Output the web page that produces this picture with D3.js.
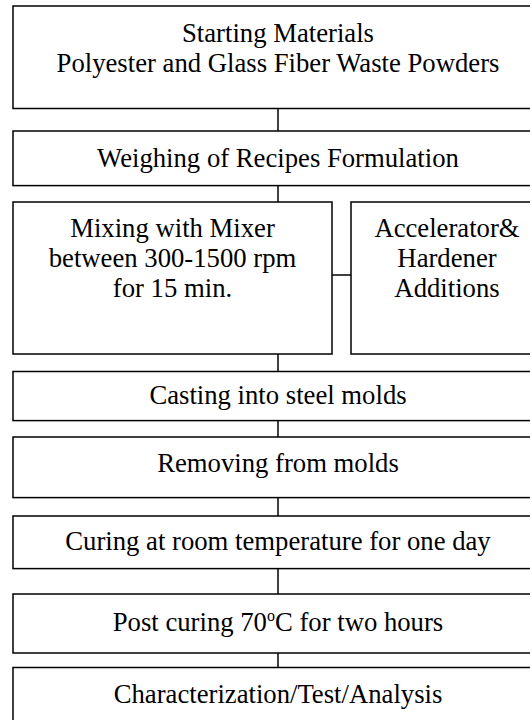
<!DOCTYPE html>
<html>
<head>
<meta charset="utf-8">
<script src="https://cdn.jsdelivr.net/npm/d3@7"></script>
<style>
  html, body { margin: 0; padding: 0; background: #fff; }
  svg { display: block; }
  .box { fill: #fff; stroke: #000; stroke-width: 1.5; }
  .link { stroke: #000; stroke-width: 1.5; }
  .label { font-family: "Liberation Serif", "Times New Roman", serif; font-size: 26.7px; fill: #000; }
</style>
</head>
<body>
<svg id="flow" width="530" height="720"></svg>
<script>
// Process steps, top to bottom (each entry = lines of text)
const steps = [
  ["Starting Materials", "Polyester and Glass Fiber Waste Powders"],
  ["Weighing of Recipes Formulation"],
  ["Mixing with Mixer", "between 300-1500 rpm", "for 15 min."],
  ["Casting into steel molds"],
  ["Removing from molds"],
  ["Curing at room temperature for one day"],
  ["Post curing 70|o|C for two hours"],
  ["Characterization/Test/Analysis"]
];
// side box attached to step index 2
const sideStep = ["Accelerator&", "Hardener", "Additions"];
const sideOf = 2;

// layout: box top and bottom for each row (px)
const rowTop    = [6, 131, 202, 371.5, 437, 516, 594, 667.5];
const rowBottom = [108.5, 185.6, 354, 420.6, 497.6, 568.6, 653, 760];
const textTop   = [42, 166.5, 237, 404, 472, 550, 631, 703];

const svg = d3.select("#flow");
const x = d3.scaleLinear().domain([0, 1]).range([13, 543]);
const splitMain = 332, splitSide = 351;
const lineH = 30;

// connectors
const g = svg.append("g");
const cx = (x(0) + x(1)) / 2;
g.selectAll("line.v")
  .data(d3.range(steps.length - 1))
  .enter().append("line")
  .attr("class", "link")
  .attr("x1", cx).attr("x2", cx)
  .attr("y1", i => rowBottom[i]).attr("y2", i => rowTop[i + 1]);

const midY = (rowTop[sideOf] + rowBottom[sideOf]) / 2 - 3;
g.append("line").attr("class", "link")
  .attr("x1", splitMain).attr("x2", splitSide)
  .attr("y1", midY).attr("y2", midY);

// boxes
const nodes = steps.map((lines, i) => ({
  lines, i,
  x0: x(0), x1: i === sideOf ? splitMain : x(1),
  y0: rowTop[i], y1: rowBottom[i], ty: textTop[i]
}));
nodes.push({ lines: sideStep, i: sideOf, x0: splitSide, x1: x(1),
  y0: rowTop[sideOf], y1: rowBottom[sideOf], ty: textTop[sideOf] });

const node = g.selectAll("g.node").data(nodes).enter().append("g").attr("class", "node");
node.append("rect").attr("class", "box")
  .attr("x", d => d.x0).attr("y", d => d.y0)
  .attr("width", d => d.x1 - d.x0).attr("height", d => d.y1 - d.y0);

node.each(function (d) {
  const t = d3.select(this).append("text").attr("class", "label").attr("text-anchor", "middle");
  d.lines.forEach((ln, k) => {
    const parts = ln.split("|");
    const row = t.append("tspan").attr("x", (d.x0 + d.x1) / 2).attr("y", d.ty + k * lineH);
    parts.forEach((p, j) => {
      if (j % 2 === 1) {
        row.append("tspan").attr("font-size", 16).attr("dy", -10).text(p);
      } else if (j > 0) {
        row.append("tspan").attr("dy", 10).text(p);
      } else {
        row.append("tspan").text(p);
      }
    });
  });
});
</script>
</body>
</html>
